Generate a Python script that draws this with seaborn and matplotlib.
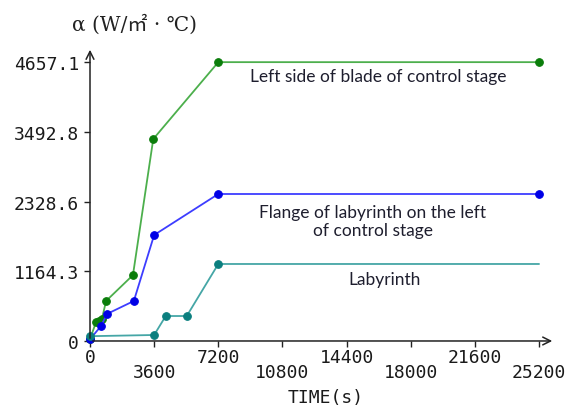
import numpy as np
import pandas as pd
import matplotlib.pyplot as plt
import seaborn as sns

sns.set_theme(style='white')
plt.rcParams['font.family'] = ['DejaVu Sans Mono', 'Noto Sans CJK SC']

# heat transfer coefficient vs time
blade_t = [0, 340, 500, 670, 900, 2410, 3550, 7200, 25200]
blade_a = [30, 317, 334, 367, 668, 1100, 3373, 4657.1, 4657.1]

flange_t = [0, 620, 950, 2460, 3600, 7200, 25200]
flange_a = [30, 250, 451, 668, 1770, 2455, 2455]

laby_t = [0, 3600, 4250, 5430, 7200, 25200]
laby_a = [80, 100, 417, 417, 1286, 1286]

yticks = [0, 1164.3, 2328.6, 3492.8, 4657.1]
ytick_labels = ['0', '1164.3', '2328.6', '3492.8', '4657.1']
xticks_top = [0, 7200, 14400, 21600]
xticks_low = [3600, 10800, 18000, 25200]

fig = plt.figure(figsize=(5.74, 4.10), dpi=100)
ax = fig.add_axes([0.1568, 0.1659, 0.8101, 0.717])

series = [
    (blade_t, blade_a, '#4caf4c', '#0a7d0a', None),
    (flange_t, flange_a, '#3d3dff', '#0000e6', None),
    (laby_t, laby_a, '#45a6a6', '#0b7f7f', list(range(len(laby_t) - 1))),
]
for t, a, lc, mc, every in series:
    df = pd.DataFrame({'t': t, 'a': a})
    sns.lineplot(data=df, x='t', y='a', ax=ax, color=lc, lw=1.3,
                 marker='o', markersize=5.5, markerfacecolor=mc,
                 markeredgecolor=mc, markevery=every, clip_on=False,
                 zorder=3)

ax.set_xlim(0, 26096)
ax.set_ylim(0, 4910)
for s in ax.spines.values():
    s.set_visible(False)

# axes drawn as arrows
arr = dict(arrowstyle='->', lw=1.1, color='#222222', mutation_scale=14)
ax.annotate('', xy=(1, 0), xytext=(0, 0), xycoords='axes fraction',
            textcoords='axes fraction', arrowprops=arr)
ax.annotate('', xy=(0, 1), xytext=(0, 0), xycoords='axes fraction',
            textcoords='axes fraction', arrowprops=arr)

ax.set_yticks(yticks)
ax.set_yticklabels(ytick_labels)
ax.set_xticks(xticks_top)
ax.set_xticklabels([str(v) for v in xticks_top])
ax.set_xticks(xticks_low, minor=True)
ax.set_xticklabels([str(v) for v in xticks_low], minor=True)

tick_fs = 13
ax.tick_params(axis='y', which='major', left=True, length=4, width=1,
               color='#222222', pad=4, labelsize=tick_fs, labelcolor='#1a1a1a')
ax.tick_params(axis='x', which='major', bottom=True, length=4, width=1,
               color='#222222', pad=1, labelsize=tick_fs, labelcolor='#1a1a1a')
ax.tick_params(axis='x', which='minor', bottom=True, length=4, width=1,
               color='#222222', pad=12, labelsize=tick_fs, labelcolor='#1a1a1a')
ax.set_xlabel('')
ax.set_ylabel('')

fig.text(134 / 574, 1 - 25 / 410, 'α (W/㎡ · ℃)', ha='center', va='center',
         fontsize=14.5, color='#222222',
         family=['DejaVu Serif', 'Noto Sans CJK SC'])
fig.text(326 / 574, 1 - 398 / 410, 'TIME(s)', ha='center', va='center',
         fontsize=tick_fs, color='#1a1a1a')

lab = dict(ha='center', va='center', fontsize=12.5, color='#1e1e2e',
           family=['Lato', 'DejaVu Sans'])
ax.text(16160, 4425, 'Left side of blade of control stage', **lab)
ax.text(15880, 2004, 'Flange of labyrinth on the left\nof control stage',
        linespacing=1.1, **lab)
ax.text(16550, 1035, 'Labyrinth', **lab)

fig.savefig('out.png', dpi=100)
